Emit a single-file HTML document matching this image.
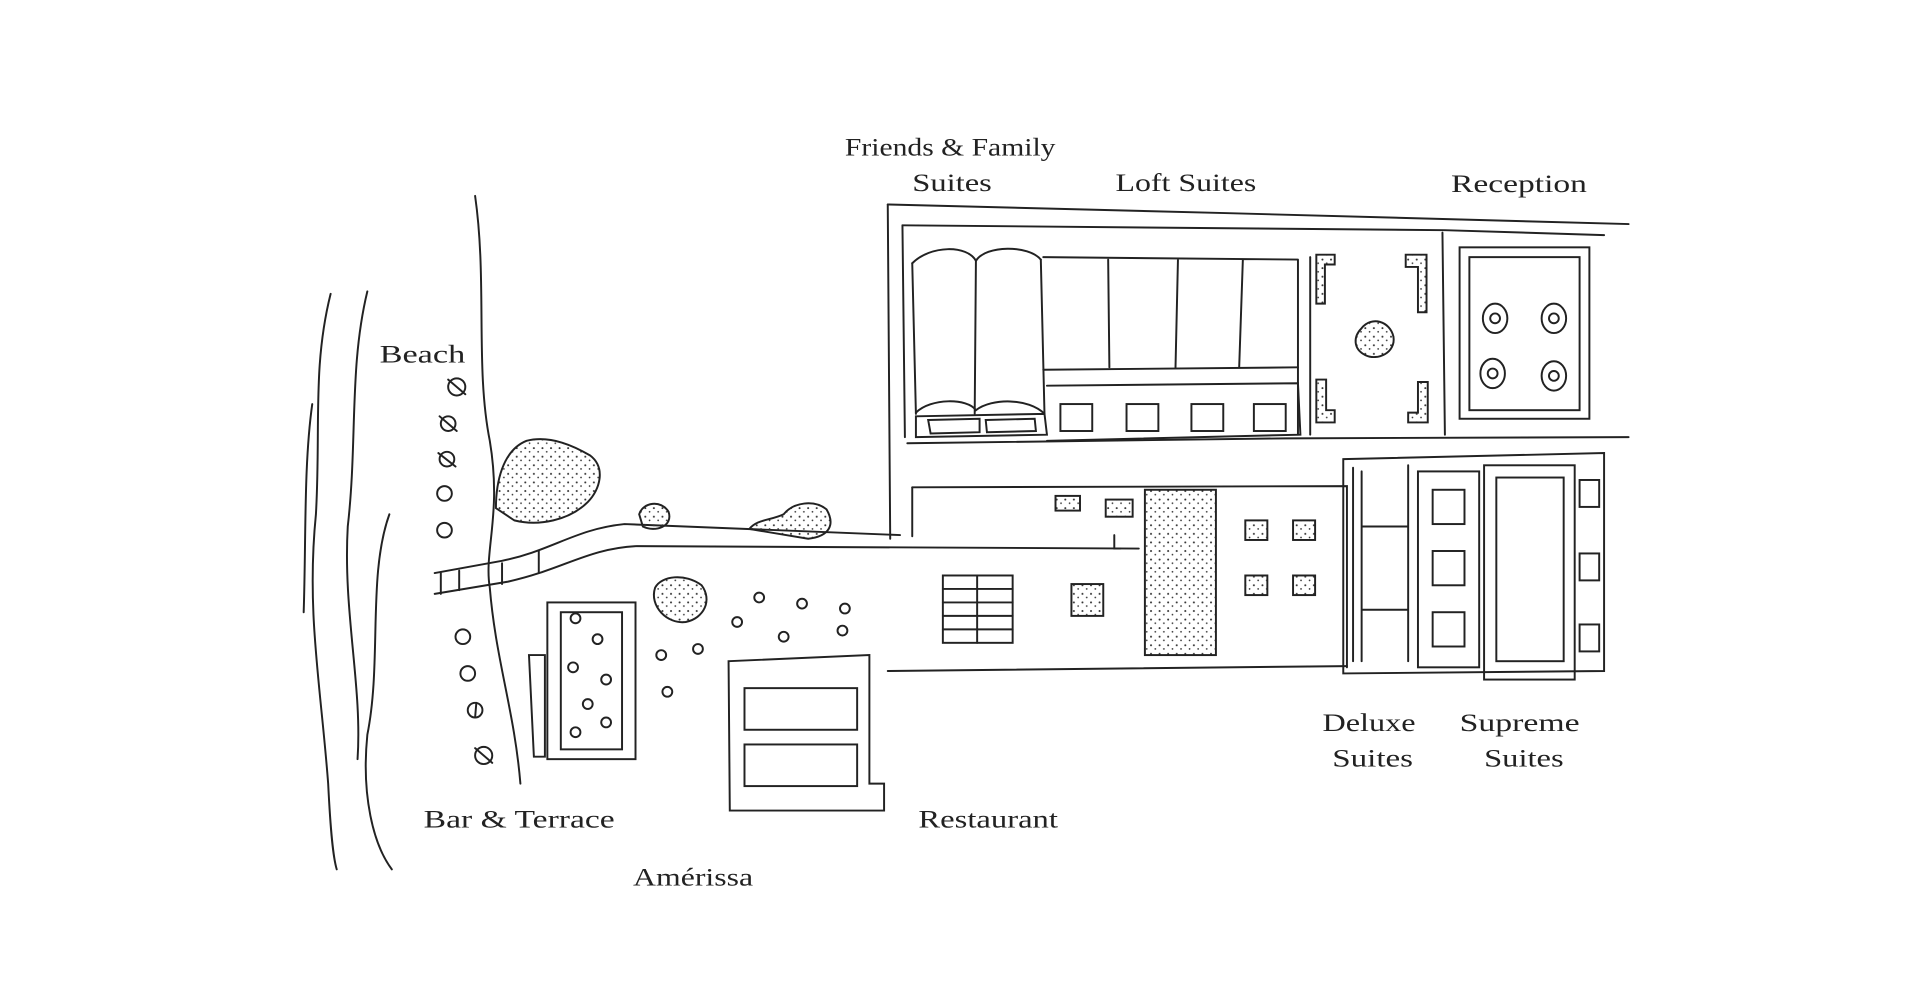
<!DOCTYPE html>
<html><head><meta charset="utf-8"><style>
html,body{margin:0;padding:0;background:#fff;}
svg{display:block;}
text{font-family:"Liberation Serif",serif;font-size:21px;fill:#222;}
</style></head><body>
<svg width="1920" height="1000" viewBox="0 0 1568 816.7" preserveAspectRatio="none" xmlns="http://www.w3.org/2000/svg">
<defs>
<pattern id="dots" width="7" height="7" patternUnits="userSpaceOnUse">
<circle cx="2" cy="2" r="0.8" fill="#333"/><circle cx="5.5" cy="5" r="0.7" fill="#333"/>
</pattern>
</defs>
<g fill="none" stroke="#222" stroke-width="1.6" stroke-linecap="round">
<path d="M270 240 C255 300 262 350 258 420 C250 500 262 560 268 640 C270 680 272 700 275 710"/>
<path d="M300 238 C285 300 292 360 284 430 C280 500 296 560 292 620"/>
<path d="M255 330 C248 380 250 440 248 500"/>
<path d="M318 420 C300 470 312 540 300 600 C295 650 305 690 320 710"/>
<path d="M388 160 C398 230 388 300 400 360 C410 420 395 450 400 480 C405 540 420 580 425 640"/>
<path d="M355 468 L410 458 C450 450 470 432 510 428 L735 437"/>
<path d="M355 485 L415 475 C460 465 480 448 520 446 L930 448"/>
<path d="M360 468 L360 485 M375 466 L375 482 M410 460 L410 477 M440 450 L440 468"/>
<path d="M725 167 L1000 174 L1330 183"/>
<path d="M725 167 L727 440"/>
<path d="M737 184 L1180 188 L1310 192"/>
<path d="M737 184 L739 357"/>
<path d="M741 362 L1050 358 L1330 357"/>
<path d="M1178 190 L1180 355"/>
<path d="M1070 210 L1070 355"/>
<path d="M745 215 C760 200 790 200 797 213 C805 200 840 200 850 212"/>
<path d="M745 215 L748 338 M797 213 L796 338 M850 212 L853 338"/>
<path d="M748 337 C760 325 790 325 797 335 C810 325 840 325 853 338"/>
<path d="M748 340 L853 338 L855 355 L748 357 Z"/>
<path d="M758 343 L800 342 L800 353 L760 354 Z M805 343 L845 342 L846 352 L806 353 Z"/>
<path d="M852 210 L1060 212 M905 212 L906 300 M962 212 L960 300 M1015 212 L1012 300 M1060 212 L1060 355"/>
<path d="M852 302 L1060 300"/>
<path d="M855 315 L1060 313 L1062 355 L855 360"/>
<rect x="866" y="330" width="26" height="22"/><rect x="920" y="330" width="26" height="22"/>
<rect x="973" y="330" width="26" height="22"/><rect x="1024" y="330" width="26" height="22"/>
<path d="M1075 208 L1090 208 L1090 216 L1082 216 L1082 248 L1075 248 Z" fill="url(#dots)"/>
<path d="M1148 208 L1165 208 L1165 255 L1158 255 L1158 218 L1148 218 Z" fill="url(#dots)"/>
<path d="M1075 310 L1083 310 L1083 335 L1090 335 L1090 345 L1075 345 Z" fill="url(#dots)"/>
<path d="M1158 312 L1166 312 L1166 345 L1150 345 L1150 337 L1158 337 Z" fill="url(#dots)"/>
<path d="M1112 268 C1120 258 1135 262 1138 275 C1140 288 1125 295 1115 290 C1105 285 1105 275 1112 268 Z" fill="url(#dots)"/>
<rect x="1192" y="202" width="106" height="140"/>
<rect x="1200" y="210" width="90" height="125"/>
<ellipse cx="1221" cy="260" rx="10" ry="12"/><circle cx="1221" cy="260" r="4"/>
<ellipse cx="1269" cy="260" rx="10" ry="12"/><circle cx="1269" cy="260" r="4"/>
<ellipse cx="1219" cy="305" rx="10" ry="12"/><circle cx="1219" cy="305" r="4"/>
<ellipse cx="1269" cy="307" rx="10" ry="12"/><circle cx="1269" cy="307" r="4"/>
<path d="M745 398 L1100 397 L1100 545"/>
<path d="M745 398 L745 438"/>
<path d="M725 548 L1100 544"/>
<path d="M910 437 L910 448 L915 448"/>
<rect x="862" y="405" width="20" height="12" fill="url(#dots)"/>
<rect x="903" y="408" width="22" height="14" fill="url(#dots)"/>
<rect x="935" y="400" width="58" height="135" fill="url(#dots)"/>
<rect x="1017" y="425" width="18" height="16" fill="url(#dots)"/><rect x="1056" y="425" width="18" height="16" fill="url(#dots)"/>
<rect x="1017" y="470" width="18" height="16" fill="url(#dots)"/><rect x="1056" y="470" width="18" height="16" fill="url(#dots)"/>
<rect x="875" y="477" width="26" height="26" fill="url(#dots)"/>
<rect x="770" y="470" width="57" height="55"/>
<path d="M770 481 L827 481 M770 492 L827 492 M770 503 L827 503 M770 514 L827 514 M798 470 L798 525"/>
<path d="M1097 375 L1310 370 L1310 548 L1097 550 Z"/>
<path d="M1105 382 L1105 540 M1112 385 L1112 540 M1112 430 L1150 430 M1112 498 L1150 498 M1150 380 L1150 540"/>
<rect x="1158" y="385" width="50" height="160"/>
<rect x="1170" y="400" width="26" height="28"/><rect x="1170" y="450" width="26" height="28"/><rect x="1170" y="500" width="26" height="28"/>
<rect x="1212" y="380" width="74" height="175"/>
<rect x="1222" y="390" width="55" height="150"/>
<rect x="1290" y="392" width="16" height="22"/><rect x="1290" y="452" width="16" height="22"/><rect x="1290" y="510" width="16" height="22"/>
<path d="M405 415 C405 395 410 368 430 360 C450 355 470 365 482 372 C495 382 490 400 480 410 C465 425 440 430 420 425 Z" fill="url(#dots)"/>
<path d="M522 420 C525 410 540 408 546 418 C550 430 535 435 525 430 Z" fill="url(#dots)"/>
<path d="M612 432 C618 424 630 425 640 420 C648 410 665 408 675 416 C682 428 678 438 660 440 Z" fill="url(#dots)"/>
<path d="M535 480 C540 470 560 468 573 478 C582 490 575 505 560 508 C545 510 530 495 535 480 Z" fill="url(#dots)"/>
<circle cx="373" cy="316" r="7"/><circle cx="366" cy="346" r="6"/><circle cx="365" cy="375" r="6"/><circle cx="363" cy="403" r="6"/><circle cx="363" cy="433" r="6"/>
<circle cx="378" cy="520" r="6"/><circle cx="382" cy="550" r="6"/><circle cx="388" cy="580" r="6"/><circle cx="395" cy="617" r="7"/>
<path d="M366 310 L380 322 M359 340 L373 352 M358 370 L372 381 M389 574 L388 586 M388 611 L402 623"/>
<rect x="447" y="492" width="72" height="128"/>
<rect x="458" y="500" width="50" height="112"/>
<path d="M432 535 L445 535 L445 618 L436 618 Z"/>
<circle cx="470" cy="505" r="4"/><circle cx="488" cy="522" r="4"/><circle cx="468" cy="545" r="4"/><circle cx="495" cy="555" r="4"/><circle cx="480" cy="575" r="4"/><circle cx="470" cy="598" r="4"/><circle cx="495" cy="590" r="4"/>
<circle cx="540" cy="535" r="4"/><circle cx="570" cy="530" r="4"/><circle cx="545" cy="565" r="4"/>
<circle cx="620" cy="488" r="4"/><circle cx="655" cy="493" r="4"/><circle cx="602" cy="508" r="4"/><circle cx="640" cy="520" r="4"/><circle cx="688" cy="515" r="4"/><circle cx="690" cy="497" r="4"/>
<path d="M595 540 L710 535 L710 640 L722 640 L722 662 L596 662 Z"/>
<rect x="608" y="562" width="92" height="34"/>
<rect x="608" y="608" width="92" height="34"/>
</g>
<text x="690" y="127" textLength="172" lengthAdjust="spacingAndGlyphs">Friends &amp; Family</text>
<text x="745" y="156" textLength="65" lengthAdjust="spacingAndGlyphs">Suites</text>
<text x="911" y="156" textLength="115" lengthAdjust="spacingAndGlyphs">Loft Suites</text>
<text x="1185" y="157" textLength="111" lengthAdjust="spacingAndGlyphs">Reception</text>
<text x="310" y="296" textLength="70" lengthAdjust="spacingAndGlyphs">Beach</text>
<text x="346" y="676" textLength="156" lengthAdjust="spacingAndGlyphs">Bar &amp; Terrace</text>
<text x="517" y="723" textLength="98" lengthAdjust="spacingAndGlyphs">Amérissa</text>
<text x="750" y="676" textLength="114" lengthAdjust="spacingAndGlyphs">Restaurant</text>
<text x="1080" y="597" textLength="76" lengthAdjust="spacingAndGlyphs">Deluxe</text>
<text x="1088" y="626" textLength="66" lengthAdjust="spacingAndGlyphs">Suites</text>
<text x="1192" y="597" textLength="98" lengthAdjust="spacingAndGlyphs">Supreme</text>
<text x="1212" y="626" textLength="65" lengthAdjust="spacingAndGlyphs">Suites</text>
</svg>
</body></html>
